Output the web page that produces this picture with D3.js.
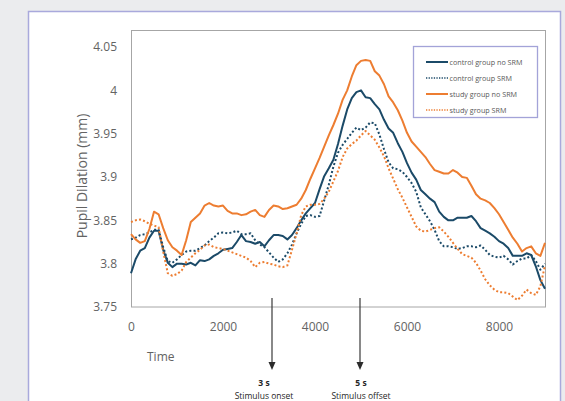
<!DOCTYPE html>
<html>
<head>
<meta charset="utf-8">
<script src="https://cdn.jsdelivr.net/npm/d3@7"></script>
<style>
  body { margin: 0; background: #ebecee; }
  svg { display: block; font-family: "Open Sans", sans-serif; }
</style>
</head>
<body>
<div id="chart"></div>
<script>
// sample times (ms)
const timeMs = [0,100,200,300,400,500,600,700,800,900,1000,1100,1200,1300,1400,1500,1600,1700,1800,1900,
  2000,2100,2200,2300,2400,2500,2600,2700,2800,2900,3000,3100,3200,3300,3400,3500,3600,3700,3800,3900,
  4000,4100,4200,4300,4400,4500,4600,4700,4800,4900,5000,5100,5200,5300,5400,5500,5600,5700,5800,5900,
  6000,6100,6200,6300,6400,6500,6600,6700,6800,6900,7000,7100,7200,7300,7400,7500,7600,7700,7800,7900,
  8000,8100,8200,8300,8400,8500,8600,8700,8800,8900,9000];

const controlNoSRM = [3.789,3.805,3.815,3.818,3.830,3.838,3.838,3.816,3.801,3.796,
  3.800,3.800,3.799,3.801,3.798,3.804,3.803,3.805,3.809,3.812,
  3.816,3.817,3.818,3.825,3.833,3.826,3.825,3.823,3.825,3.820,
  3.827,3.833,3.833,3.832,3.828,3.833,3.841,3.850,3.858,3.864,
  3.870,3.886,3.901,3.910,3.920,3.938,3.959,3.978,3.991,3.998,
  4.000,3.992,3.991,3.984,3.978,3.966,3.956,3.951,3.939,3.929,
  3.916,3.905,3.897,3.885,3.880,3.875,3.871,3.860,3.854,3.850,
  3.850,3.853,3.853,3.853,3.855,3.849,3.841,3.838,3.835,3.831,
  3.826,3.823,3.818,3.809,3.809,3.809,3.812,3.810,3.797,3.781,
  3.771];

const controlSRM = [3.828,3.830,3.833,3.834,3.836,3.839,3.839,3.819,3.803,3.801,
  3.805,3.810,3.814,3.815,3.815,3.818,3.821,3.826,3.830,3.835,
  3.836,3.835,3.836,3.838,3.834,3.834,3.835,3.827,3.822,3.819,
  3.813,3.807,3.802,3.805,3.812,3.822,3.835,3.846,3.855,3.856,
  3.854,3.855,3.873,3.891,3.912,3.928,3.937,3.944,3.951,3.957,
  3.954,3.957,3.963,3.962,3.949,3.932,3.917,3.910,3.909,3.906,
  3.900,3.893,3.883,3.865,3.857,3.849,3.839,3.826,3.820,3.820,
  3.819,3.817,3.818,3.820,3.820,3.819,3.821,3.816,3.810,3.808,
  3.807,3.809,3.805,3.799,3.803,3.806,3.806,3.810,3.803,3.793,
  3.800];

const studyNoSRM = [3.834,3.828,3.824,3.826,3.840,3.860,3.857,3.841,3.827,3.819,
  3.815,3.810,3.827,3.848,3.853,3.858,3.867,3.870,3.867,3.866,
  3.867,3.861,3.858,3.858,3.856,3.857,3.860,3.862,3.856,3.854,
  3.862,3.867,3.866,3.863,3.864,3.866,3.868,3.875,3.885,3.898,
  3.910,3.922,3.935,3.948,3.960,3.973,3.989,4.000,4.016,4.029,
  4.034,4.035,4.034,4.022,4.017,4.007,3.993,3.986,3.977,3.965,
  3.951,3.941,3.935,3.929,3.923,3.915,3.908,3.906,3.904,3.904,
  3.908,3.905,3.900,3.899,3.890,3.880,3.875,3.873,3.870,3.864,
  3.857,3.848,3.839,3.830,3.823,3.814,3.818,3.820,3.812,3.809,
  3.824];

const studySRM = [3.848,3.850,3.851,3.849,3.846,3.844,3.842,3.814,3.789,3.786,
  3.788,3.792,3.802,3.807,3.812,3.816,3.821,3.822,3.819,3.818,
  3.817,3.815,3.813,3.811,3.809,3.807,3.803,3.796,3.801,3.802,
  3.800,3.799,3.797,3.796,3.798,3.816,3.835,3.856,3.866,3.868,
  3.868,3.869,3.875,3.883,3.895,3.907,3.923,3.933,3.938,3.942,
  3.948,3.953,3.948,3.943,3.934,3.924,3.910,3.898,3.886,3.876,
  3.865,3.854,3.843,3.838,3.837,3.839,3.841,3.842,3.837,3.831,
  3.824,3.817,3.811,3.809,3.807,3.801,3.792,3.782,3.775,3.770,
  3.767,3.767,3.766,3.762,3.758,3.763,3.770,3.766,3.764,3.774,
  3.798];

const xTicks = [0, 2000, 4000, 6000, 8000];
const yTicks = [3.75, 3.8, 3.85, 3.9, 3.95, 4, 4.05];
const seriesNames = ["control group no SRM", "control group SRM", "study group no SRM", "study group SRM"];
const markers = [{ time: 3000, top: "3 s", bottom: "Stimulus onset" },
                 { time: 5000, top: "5 s", bottom: "Stimulus offset" }];

let width = 565,
    height = 401;

const navy = "#1b4a68",
      orange = "#ed7d31",
      textGray = "#636363";

let svg = d3.select("#chart")
    .append("svg")
    .attr("width", width)
    .attr("height", height);

// outer panel
svg.append("rect")
    .attr("width", width)
    .attr("height", height)
    .attr("fill", "#ebecee");
svg.append("rect")
    .attr("x", 28.5)
    .attr("y", 11.5)
    .attr("width", 532)
    .attr("height", 400)
    .attr("fill", "#fff")
    .attr("stroke", "#a9a9dc")
    .attr("stroke-width", 1.5);

let xScale = d3.scaleLinear().domain([0, 9000]).range([131, 545]);
let yScale = d3.scaleLinear().domain([3.75, 4.05]).range([307, 47]);

// plot area box
svg.append("rect")
    .attr("x", 131.5)
    .attr("y", 30.5)
    .attr("width", 414)
    .attr("height", 276.5)
    .attr("fill", "none")
    .attr("stroke", "#a6a6a6")
    .attr("stroke-width", 1);

let yAxis = d3.axisLeft(yScale)
    .tickValues(yTicks)
    .tickSize(0)
    .tickPadding(14)
    .tickFormat(d => String(+d.toFixed(2)));
svg.append("g")
    .attr("transform", "translate(131, 0)")
    .call(yAxis)
    .call(g => g.select(".domain").remove())
    .selectAll("text")
    .attr("fill", textGray)
    .style("font-size", "12px")
    .style("font-family", "Open Sans");

let xAxis = d3.axisBottom(xScale)
    .tickValues(xTicks)
    .tickSize(0)
    .tickPadding(15)
    .tickFormat(d3.format("d"));
svg.append("g")
    .attr("transform", "translate(0, 307)")
    .call(xAxis)
    .call(g => g.select(".domain").remove())
    .selectAll("text")
    .attr("fill", textGray)
    .style("font-size", "12px")
    .style("font-family", "Open Sans");

svg.append("text")
    .attr("transform", "translate(87, 176) rotate(-90)")
    .attr("text-anchor", "middle")
    .attr("fill", textGray)
    .style("font-size", "14px")
    .text("Pupil Dilation (mm)");

svg.append("text")
    .attr("x", 147)
    .attr("y", 361)
    .attr("fill", textGray)
    .style("font-size", "12px")
    .text("Time");

// series
const series = [
    { name: seriesNames[0], values: controlNoSRM, color: navy, dash: null },
    { name: seriesNames[1], values: controlSRM, color: navy, dash: "2,2.2" },
    { name: seriesNames[2], values: studyNoSRM, color: orange, dash: null },
    { name: seriesNames[3], values: studySRM, color: orange, dash: "2,2.2" }
];

let line = d3.line()
    .x((d, i) => xScale(timeMs[i]))
    .y(d => yScale(d));

svg.append("g")
    .selectAll("path")
    .data(series)
    .enter()
    .append("path")
    .attr("d", d => line(d.values))
    .attr("fill", "none")
    .attr("stroke", d => d.color)
    .attr("stroke-width", 2)
    .attr("stroke-dasharray", d => d.dash)
    .attr("stroke-linejoin", "round");

// legend
let legend = svg.append("g");
legend.append("rect")
    .attr("x", 413.5)
    .attr("y", 46.5)
    .attr("width", 124)
    .attr("height", 71)
    .attr("fill", "#fff")
    .attr("stroke", "#a3a3d8")
    .attr("stroke-width", 1.3);

let items = legend.selectAll(".item")
    .data(series)
    .enter()
    .append("g")
    .attr("transform", (d, i) => `translate(0, ${62 + i * 16})`);
items.append("line")
    .attr("x1", 426)
    .attr("x2", 448)
    .attr("stroke", d => d.color)
    .attr("stroke-width", d => d.dash ? 1.3 : 2)
    .attr("stroke-dasharray", d => d.dash ? "1.3,1.3" : null);
items.append("text")
    .attr("x", 449.5)
    .attr("dy", "0.35em")
    .attr("fill", "#595959")
    .style("font-size", "7.2px")
    .text(d => d.name);

// stimulus markers below the x axis
let marks = svg.append("g")
    .selectAll("g")
    .data(markers)
    .enter()
    .append("g");
marks.append("line")
    .attr("x1", (d, i) => xScale(d.time) + (i === 0 ? 3 : -1))
    .attr("x2", (d, i) => xScale(d.time) + (i === 0 ? 3 : -1))
    .attr("y1", 298)
    .attr("y2", 363)
    .attr("stroke", "#3a3a3a")
    .attr("stroke-width", 1.2);
marks.append("path")
    .attr("d", (d, i) => {
        let cx = xScale(d.time) + (i === 0 ? 3 : -1);
        return `M${cx - 3.5},362 L${cx + 3.5},362 L${cx},370 Z`;
    })
    .attr("fill", "#2b2b2b");
marks.append("text")
    .attr("x", (d, i) => xScale(d.time) + (i === 0 ? -5 : 0))
    .attr("y", 386)
    .attr("text-anchor", "middle")
    .attr("fill", "#262626")
    .style("font-size", "8.5px")
    .style("font-weight", "bold")
    .text(d => d.top);
marks.append("text")
    .attr("x", (d, i) => xScale(d.time) + (i === 0 ? -5 : 0))
    .attr("y", 398.5)
    .attr("text-anchor", "middle")
    .attr("fill", "#262626")
    .style("font-size", "8.5px")
    .text(d => d.bottom);
</script>
</body>
</html>
